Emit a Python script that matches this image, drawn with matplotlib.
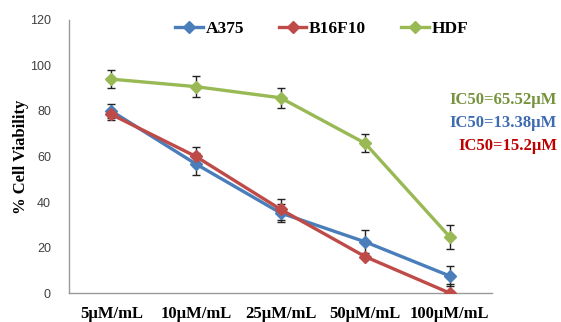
import numpy as np
import matplotlib
matplotlib.use("Agg")
import matplotlib.pyplot as plt
from matplotlib.lines import Line2D

# concentrations on the x axis
doses = ["5µM/mL", "10µM/mL", "25µM/mL", "50µM/mL", "100µM/mL"]

# % cell viability per cell line
a375 = [80, 56.7, 35.2, 22.5, 7.5]
a375_err = [3, 5, 4, 5, 4.5]
b16f10 = [78.5, 60, 36.8, 16, 0]
b16f10_err = [2.5, 4, 4.5, 0, 4]
hdf = [94, 90.7, 85.8, 65.8, 24.7]
hdf_err = [4, 4.5, 4.5, 4, 5.2]

ic50_labels = ["IC50=65.52µM", "IC50=13.38µM", "IC50=15.2µM"]

blue = "#4a7ebb"
red = "#be4b48"
green = "#98b954"
serif = "Liberation Serif"

fig, ax = plt.subplots(figsize=(5.61, 3.22), dpi=100)
fig.subplots_adjust(left=0.123, right=0.877, top=0.938, bottom=0.09)

x = np.arange(len(doses))
series = [
    ("A375", a375, a375_err, blue),
    ("B16F10", b16f10, b16f10_err, red),
    ("HDF", hdf, hdf_err, green),
]
handles = []
for name, vals, err, col in series:
    ax.errorbar(x, vals, yerr=err, color=col, lw=2.4, marker="D", ms=6,
                ecolor="#222222", elinewidth=1.0, capsize=3, capthick=1.0,
                zorder=3)
    handles.append(Line2D([], [], color=col, lw=2.4, marker="D", ms=6, label=name))

ax.set_xlim(-0.5, len(doses) - 0.5)
ax.set_ylim(0, 120)
ax.set_yticks(range(0, 121, 20))
ax.set_xticks(x)
ax.set_xticklabels(doses, fontfamily=serif, fontweight="bold", fontsize=12)
ax.tick_params(axis="both", length=0)
ax.tick_params(axis="x", pad=9)
ax.tick_params(axis="y", labelsize=9, labelcolor="#404040", pad=13)
for lab in ax.get_yticklabels():
    lab.set_fontfamily("Liberation Sans")

for s in ["top", "right"]:
    ax.spines[s].set_visible(False)
for s in ["left", "bottom"]:
    ax.spines[s].set_color("#999999")
    ax.spines[s].set_linewidth(1.0)

ax.set_ylabel("% Cell Viability", fontfamily=serif, fontweight="bold", fontsize=12)
ax.yaxis.set_label_coords(-0.095, 0.5)

ax.legend(handles=handles, loc="center", bbox_to_anchor=(0.597, 0.967), ncol=3,
          frameon=False, prop={"family": serif, "weight": "bold", "size": 12.5},
          handlelength=1.6, columnspacing=2.0, handletextpad=0.15)

# IC50 notes at the right
ic50_colors = ["#76923c", "#3d6bb0", "#c00000"]
for i, (txt, col) in enumerate(zip(ic50_labels, ic50_colors)):
    fig.text(0.993, 0.689 - i * 0.0714, txt, color=col, fontfamily=serif,
             fontweight="bold", fontsize=12, ha="right", va="center")

fig.savefig("out.png", dpi=100)
